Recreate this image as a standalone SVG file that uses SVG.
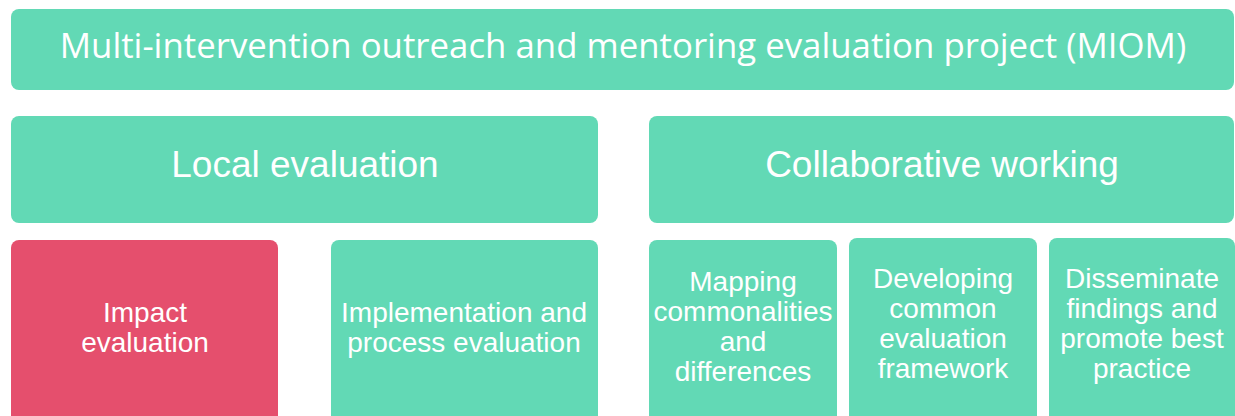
<svg xmlns="http://www.w3.org/2000/svg" width="1235" height="416" viewBox="0 0 1235 416">
<style>
.g{fill:#62D9B5}
.r{fill:#E54F6D}
.t{fill:#fff;font-family:"Liberation Sans",Arial,sans-serif;text-anchor:middle}
.big{font-size:37px}
.sm{font-size:28px}
.ttl{fill:#fff;font-family:"Open Sans","Noto Sans",sans-serif;font-size:34.8px;text-anchor:middle}
</style>
<rect width="1235" height="416" fill="#fff"/>
<g id="connectors"/>
<g id="miom"><rect class="g" x="11" y="9" width="1223" height="81" rx="8"/><text class="ttl" x="623" y="58">Multi-intervention outreach and mentoring evaluation project (MIOM)</text></g>
<g id="local"><rect class="g" x="11" y="116" width="587" height="107" rx="8"/><text class="t big" x="305" y="177">Local evaluation</text></g>
<g id="collab"><rect class="g" x="649" y="116" width="585" height="107" rx="8"/><text class="t big" x="942" y="177">Collaborative working</text></g>
<g id="impact"><rect class="r" x="11" y="240" width="267" height="190" rx="8"/><text class="t sm" x="145" y="322">Impact</text><text class="t sm" x="145" y="352">evaluation</text></g>
<g id="implementation"><rect class="g" x="331" y="240" width="267" height="190" rx="8"/><text class="t sm" x="464" y="322">Implementation and</text><text class="t sm" x="464" y="352">process evaluation</text></g>
<g id="mapping"><rect class="g" x="649" y="240" width="188" height="190" rx="8"/><text class="t sm" x="743" y="291">Mapping</text><text class="t sm" x="743" y="321">commonalities</text><text class="t sm" x="743" y="351">and</text><text class="t sm" x="743" y="381">differences</text></g>
<g id="developing"><rect class="g" x="849" y="238" width="188" height="190" rx="8"/><text class="t sm" x="943" y="288">Developing</text><text class="t sm" x="943" y="318">common</text><text class="t sm" x="943" y="348">evaluation</text><text class="t sm" x="943" y="378">framework</text></g>
<g id="disseminate"><rect class="g" x="1049" y="238" width="186" height="190" rx="8"/><text class="t sm" x="1142" y="288">Disseminate</text><text class="t sm" x="1142" y="318">findings and</text><text class="t sm" x="1142" y="348">promote best</text><text class="t sm" x="1142" y="378">practice</text></g>
</svg>
